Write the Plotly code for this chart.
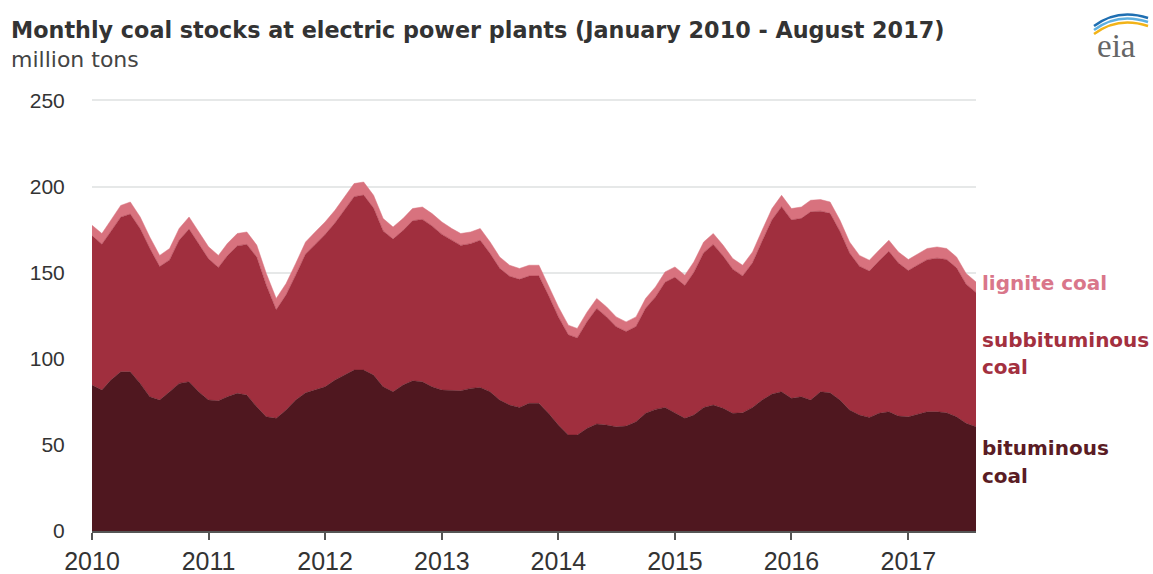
import plotly.graph_objects as go
import pandas as pd

# Months: January 2010 - August 2017
months = pd.date_range("2010-01-01", "2017-08-01", freq="MS").strftime("%Y-%m-%d").tolist()

# million tons
bituminous = [84.7, 81.8, 87.6, 92.4, 92.4, 85.7, 77.9, 76.0, 80.8, 85.7, 86.6, 80.8,
              76.0, 75.6, 77.9, 79.9, 78.9, 72.1, 66.3, 65.4, 70.2, 76.0, 80.2, 81.8,
              83.7, 87.6, 90.5, 93.4, 93.4, 90.5, 83.7, 80.8, 84.7, 87.2, 86.6, 83.7,
              81.8, 81.8, 81.4, 82.8, 83.3, 80.8, 76.0, 73.1, 71.7, 74.1, 74.1, 68.3,
              61.5, 55.7, 55.7, 59.6, 62.1, 61.5, 60.5, 60.9, 63.4, 68.3, 70.6, 71.7,
              68.3, 65.4, 67.3, 71.7, 73.1, 71.2, 68.3, 68.6, 71.7, 76.0, 79.5, 80.8,
              77.0, 77.9, 76.0, 80.8, 80.2, 76.0, 70.2, 67.3, 65.9, 68.3, 69.2, 66.7,
              66.3, 67.9, 69.2, 69.2, 68.6, 66.3, 62.5, 60.5]

subbituminous = [86.8, 84.7, 86.3, 89.8, 91.6, 89.8, 86.2, 77.5, 76.6, 83.1, 88.7, 85.8,
                 82.0, 77.4, 81.9, 85.6, 87.5, 86.9, 76.4, 63.0, 66.9, 72.5, 80.6, 84.6,
                 88.4, 91.2, 95.9, 100.7, 101.6, 97.0, 90.5, 88.7, 89.7, 92.9, 94.3, 93.4,
                 90.4, 86.8, 84.4, 84.0, 85.5, 80.3, 76.5, 74.8, 74.4, 73.9, 74.0, 68.4,
                 62.8, 58.2, 56.4, 62.0, 67.1, 62.8, 58.1, 54.9, 55.3, 61.0, 65.3, 72.7,
                 79.0, 77.1, 82.8, 89.9, 93.3, 88.4, 83.7, 79.5, 84.0, 92.2, 101.2, 107.5,
                 103.6, 103.6, 109.3, 104.9, 104.2, 97.9, 91.2, 86.4, 85.0, 88.4, 93.2, 88.9,
                 84.9, 86.7, 88.3, 89.2, 89.0, 86.5, 80.8, 78.0]

lignite = [6.0, 6.2, 6.5, 6.8, 7.0, 6.8, 6.6, 6.5, 6.6, 6.8, 7.0, 7.0,
           7.0, 7.0, 7.1, 7.2, 7.2, 7.0, 6.8, 6.6, 6.6, 6.8, 7.0, 7.2,
           7.3, 7.4, 7.5, 7.6, 7.6, 7.4, 7.2, 7.0, 7.0, 7.1, 7.2, 7.2,
           7.2, 7.0, 6.9, 6.8, 6.8, 6.7, 6.6, 6.4, 6.3, 6.3, 6.2, 6.0,
           5.8, 5.6, 5.5, 5.6, 5.8, 5.8, 5.7, 5.6, 5.6, 5.7, 5.8, 6.0,
           6.0, 6.0, 6.1, 6.2, 6.3, 6.3, 6.2, 6.2, 6.3, 6.4, 6.5, 6.6,
           6.6, 6.6, 6.7, 6.7, 6.6, 6.5, 6.4, 6.3, 6.3, 6.3, 6.4, 6.4,
           6.4, 6.4, 6.5, 6.5, 6.4, 6.3, 6.2, 6.1]

year_ticks = ["2010", "2011", "2012", "2013", "2014", "2015", "2016", "2017"]
y_ticks = [0, 50, 100, 150, 200, 250]

series_names = ["bituminous coal", "subbituminous coal", "lignite coal"]
fill_colors = ["#4f171f", "#a02f3e", "#d8727e"]
label_colors = ["#5a1c24", "#a3303f", "#d9768a"]

W, H = 1153, 574
L, R, T, B = 92, 177, 99, 43
PW, PH = W - L - R, H - T - B
YMAX = 250.8


def px(x):
    return (x - L) / PW


def py(y):
    return (H - B - y) / PH


fig = go.Figure()
for name, vals, col in zip(series_names, [bituminous, subbituminous, lignite], fill_colors):
    fig.add_trace(go.Scatter(
        x=months, y=vals, name=name, stackgroup="one", mode="lines",
        line=dict(width=0.5, color=col, shape="linear"),
        fillcolor=col, hoverinfo="skip", showlegend=False,
    ))

annotations = [
    dict(text="<b>Monthly coal stocks at electric power plants (January 2010 - August 2017)</b>",
         x=px(9), y=py(30), xref="paper", yref="paper", xanchor="left", yanchor="middle",
         showarrow=False, font=dict(family="DejaVu Sans", size=22.3, color="#333333")),
    dict(text="million tons",
         x=px(9), y=py(59), xref="paper", yref="paper", xanchor="left", yanchor="middle",
         showarrow=False, font=dict(family="DejaVu Sans", size=22, color="#444444")),
    dict(text="eia",
         x=px(1116), y=py(46), xref="paper", yref="paper", xanchor="center", yanchor="middle",
         showarrow=False, font=dict(family="Liberation Serif", size=33, color="#666666")),
]

# right-hand labels, one annotation per line
label_lines = [("lignite coal", 283, 2), ("subbituminous", 340, 1), ("coal", 367, 1),
               ("bituminous", 448, 0), ("coal", 476, 0)]
for t, ypix, ci in label_lines:
    annotations.append(dict(
        text="<b>" + t + "</b>", x=px(980), y=py(ypix), xref="paper", yref="paper",
        xanchor="left", yanchor="middle", align="left", showarrow=False,
        font=dict(family="DejaVu Sans", size=20, color=label_colors[ci])))

shapes = []
arc_colors = ["#f2b318", "#5fb0e0", "#1f6fb2"]
for k, c in enumerate(arc_colors):
    y0 = 34 - k * 4
    path = "M {:.4f},{:.4f} Q {:.4f},{:.4f} {:.4f},{:.4f}".format(
        px(1094), py(y0), px(1118), py(y0 - 18), px(1148), py(y0 - 8))
    shapes.append(dict(type="path", path=path, xref="paper", yref="paper",
                       line=dict(color=c, width=2.5)))

fig.update_layout(
    width=W, height=H,
    margin=dict(l=L, r=R, t=T, b=B, pad=0, autoexpand=False),
    paper_bgcolor="white", plot_bgcolor="white",
    annotations=annotations, shapes=shapes,
    xaxis=dict(
        type="date", range=["2010-01-01", "2017-08-01"],
        tickvals=[y + "-01-01" for y in year_ticks], ticktext=year_ticks,
        showgrid=False, zeroline=False, automargin=False,
        showline=True, linecolor="#555555", linewidth=2,
        ticks="outside", ticklen=7, tickwidth=2, tickcolor="#555555",
        tickfont=dict(family="Liberation Sans", size=25, color="#333333"),
        layer="above traces",
    ),
    yaxis=dict(
        range=[0, YMAX], tickvals=y_ticks, automargin=False,
        showgrid=True, gridcolor="#e6e8e8", gridwidth=2,
        zeroline=False, showline=False,
        ticks="outside", ticklen=22, tickcolor="rgba(0,0,0,0)",
        tickfont=dict(family="Liberation Sans", size=21, color="#333333"),
    ),
)

fig.write_html("out.html")
